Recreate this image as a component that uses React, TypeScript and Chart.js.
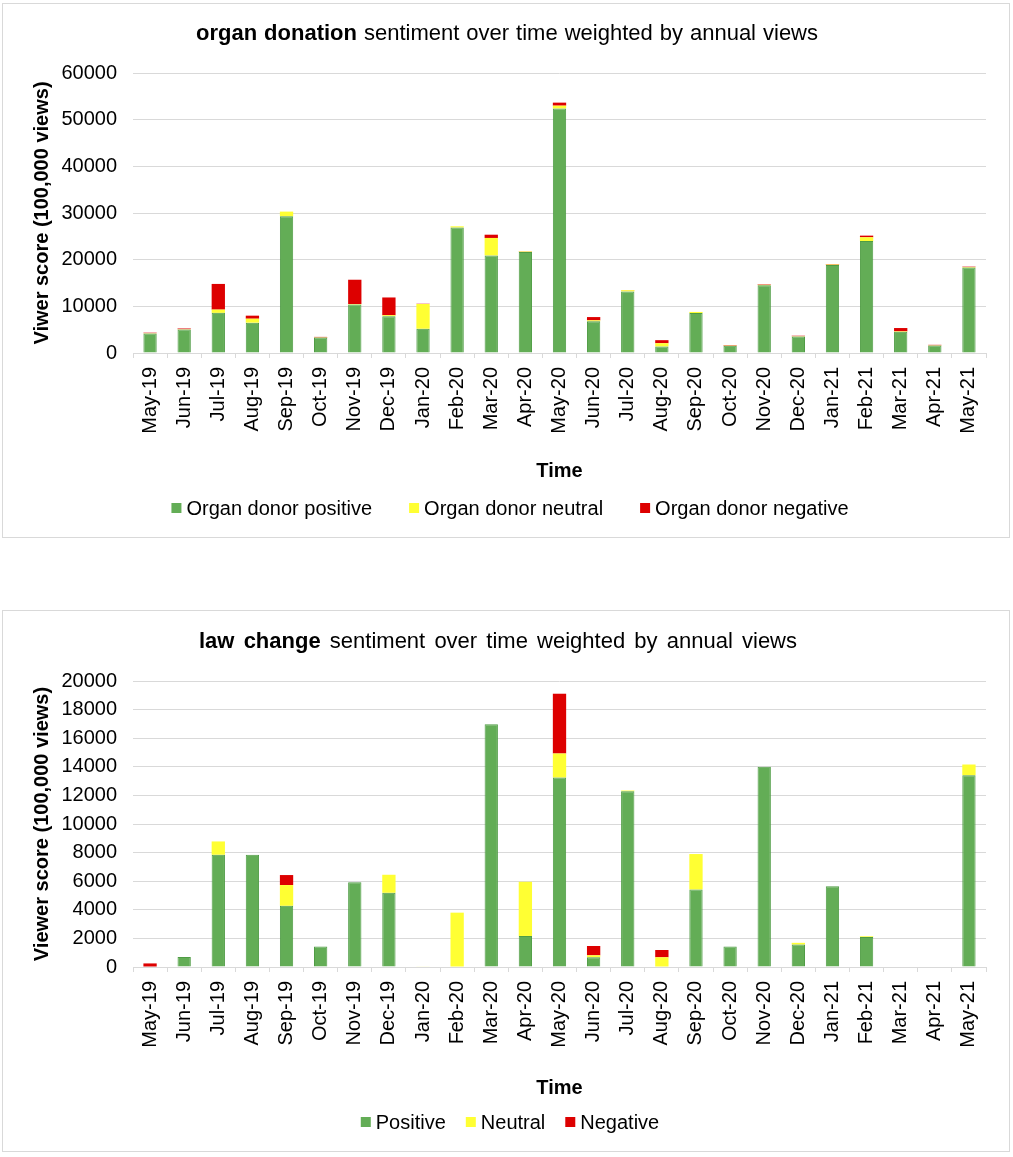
import React, { useEffect, useRef } from "react";
import { Chart, registerables } from "chart.js";

Chart.register(...registerables);

// ---------- DATA ----------
const months = [
  "May-19", "Jun-19", "Jul-19", "Aug-19", "Sep-19", "Oct-19", "Nov-19", "Dec-19",
  "Jan-20", "Feb-20", "Mar-20", "Apr-20", "May-20", "Jun-20", "Jul-20", "Aug-20",
  "Sep-20", "Oct-20", "Nov-20", "Dec-20", "Jan-21", "Feb-21", "Mar-21", "Apr-21", "May-21",
];

const organPositive = [
  4200, 5050, 8600, 6500, 29300, 3300, 10400, 7900, 5200, 26900, 20900, 21650, 52400,
  6800, 13200, 1400, 8550, 1550, 14500, 3550, 18850, 24000, 4550, 1600, 18300,
];
const organNeutral = [
  50, 50, 700, 850, 1000, 50, 100, 200, 5300, 250, 3750, 100, 600,
  200, 250, 700, 250, 50, 100, 50, 100, 800, 100, 50, 100,
];
const organNegative = [
  100, 150, 5500, 650, 0, 100, 5200, 3800, 50, 0, 700, 50, 650,
  700, 50, 650, 0, 100, 100, 100, 100, 350, 700, 100, 100,
];

const lawPositive = [
  0, 700, 7850, 7850, 4280, 1430, 5930, 5190, 0, 0, 16980, 2170, 13250,
  680, 12290, 0, 5420, 1430, 14000, 1570, 5650, 2100, 0, 0, 13410,
];
const lawNeutral = [
  0, 0, 930, 0, 1450, 0, 0, 1260, 40, 3800, 0, 3790, 1680,
  140, 50, 680, 2480, 0, 0, 120, 0, 50, 0, 0, 750,
];
const lawNegative = [
  250, 0, 0, 0, 700, 0, 0, 0, 0, 0, 0, 0, 4180,
  650, 0, 510, 0, 0, 0, 0, 0, 0, 0, 0, 0,
];

const organLabels = ["Organ donor positive", "Organ donor neutral", "Organ donor negative"];
const lawLabels = ["Positive", "Neutral", "Negative"];

// ---------- STYLE ----------
const FONT = '"Liberation Sans", Arial, Helvetica, sans-serif';
const GREEN = "#63ad56";
const GREEN_BORDER = "#4f9c44";
const YELLOW = "#ffff33";
const RED = "#dd0000";
const GRID = "#d9d9d9";

type Part = { text: string; bold: boolean };

const decorPlugin = {
  id: "decor",
  afterDraw(chart: any, _args: any, opts: any) {
    const ctx: CanvasRenderingContext2D = chart.ctx;
    ctx.save();
    // ---- title with mixed weights ----
    const parts: Part[] = opts.title || [];
    const words: { w: string; bold: boolean; width: number }[] = [];
    parts.forEach((p) => {
      p.text.split(" ").filter((s) => s.length).forEach((w) => {
        ctx.font = `${p.bold ? "bold " : ""}${opts.titleSize}px ${FONT}`;
        words.push({ w, bold: p.bold, width: ctx.measureText(w).width });
      });
    });
    ctx.font = `${opts.titleSize}px ${FONT}`;
    const spaceW = ctx.measureText(" ").width;
    const natural = words.reduce((a, b) => a + b.width, 0) + spaceW * (words.length - 1);
    const extra = opts.titleWidth ? Math.max(0, (opts.titleWidth - natural) / (words.length - 1)) : 0;
    const total = natural + extra * (words.length - 1);
    let x = opts.titleX - total / 2;
    ctx.fillStyle = "#000";
    ctx.textBaseline = "alphabetic";
    ctx.textAlign = "left";
    words.forEach((wd) => {
      ctx.font = `${wd.bold ? "bold " : ""}${opts.titleSize}px ${FONT}`;
      ctx.fillText(wd.w, x, opts.titleY);
      x += wd.width + spaceW + extra;
    });

    // ---- legend ----
    ctx.font = `${opts.legendSize}px ${FONT}`;
    const box = 10;
    const gapBT = 5;
    const items = chart.data.datasets.map((ds: any) => ({
      label: ds.label,
      color: ds.backgroundColor,
      w: box + gapBT + ctx.measureText(ds.label).width,
    }));
    const lTotal = items.reduce((a: number, b: any) => a + b.w, 0) + opts.legendGap * (items.length - 1);
    let lx = opts.legendX - lTotal / 2;
    ctx.textBaseline = "middle";
    items.forEach((it: any) => {
      ctx.fillStyle = it.color;
      ctx.fillRect(lx, opts.legendY - box / 2, box, box);
      ctx.fillStyle = "#000";
      ctx.fillText(it.label, lx + box + gapBT, opts.legendY + 1);
      lx += it.w + opts.legendGap;
    });
    ctx.restore();
  },
};

type PanelProps = {
  left: number;
  top: number;
  width: number;
  height: number;
  title: Part[];
  titleX: number;
  titleY: number;
  titleWidth: number;
  yTitle: string;
  series: number[][];
  seriesLabels: string[];
  yMax: number;
  yStep: number;
  areaTop: number;
  areaBottom: number;
  timePad: number;
  legendX: number;
  legendY: number;
  legendGap: number;
};

function Panel(p: PanelProps) {
  const ref = useRef<HTMLCanvasElement | null>(null);
  const cw = p.width - 2;
  const ch = p.height - 2;
  useEffect(() => {
    if (!ref.current) return;
    const colors = [GREEN, YELLOW, RED];
    const chart = new Chart(ref.current, {
      type: "bar",
      data: {
        labels: months,
        datasets: p.series.map((vals, i) => ({
          label: p.seriesLabels[i],
          data: vals,
          backgroundColor: colors[i],
          borderColor: i === 0 ? GREEN_BORDER : colors[i],
          borderWidth: i === 0 ? 1 : 0,
          categoryPercentage: 1,
          barPercentage: 0.39,
        })),
      },
      options: {
        responsive: false,
        maintainAspectRatio: false,
        animation: false,
        devicePixelRatio: 1,
        layout: { padding: { top: p.areaTop, left: 0, right: cw - 983, bottom: 0 } },
        plugins: {
          legend: { display: false },
          title: { display: false },
          tooltip: { enabled: false },
          decor: {
            title: p.title,
            titleX: p.titleX,
            titleY: p.titleY,
            titleWidth: p.titleWidth,
            titleSize: 22,
            legendX: p.legendX,
            legendY: p.legendY,
            legendGap: p.legendGap,
            legendSize: 20,
          },
        } as any,
        scales: {
          x: {
            stacked: true,
            offset: true,
            grid: {
              display: true,
              drawOnChartArea: false,
              drawTicks: true,
              tickLength: 5,
              color: GRID,
              offset: true,
            },
            border: { display: true, color: GRID, width: 1 },
            ticks: {
              autoSkip: false,
              minRotation: 90,
              maxRotation: 90,
              padding: 9,
              color: "#000",
              font: { family: FONT, size: 20 },
            },
            title: {
              display: true,
              text: "Time",
              color: "#000",
              font: { family: FONT, size: 20, weight: "bold" },
              padding: { top: 0, bottom: p.timePad },
            },
            afterFit: (s: any) => {
              s.height = ch - p.areaBottom;
            },
          },
          y: {
            stacked: true,
            min: 0,
            max: p.yMax,
            ticks: {
              stepSize: p.yStep,
              padding: 16,
              color: "#000",
              font: { family: FONT, size: 20 },
              callback: (v: any) => String(v),
            },
            grid: { color: GRID, drawTicks: false, lineWidth: 1 },
            border: { display: false },
            title: {
              display: true,
              text: p.yTitle,
              color: "#000",
              font: { family: FONT, size: 20, weight: "bold" },
              padding: { top: 27, bottom: 0 },
            },
            afterFit: (s: any) => {
              s.width = 130;
            },
          },
        },
      } as any,
      plugins: [decorPlugin as any],
    });
    return () => chart.destroy();
  }, []);
  return (
    <div
      style={{
        position: "absolute",
        left: p.left,
        top: p.top,
        width: p.width,
        height: p.height,
        border: `1px solid ${GRID}`,
        boxSizing: "border-box",
        background: "#fff",
      }}
    >
      <canvas ref={ref} width={cw} height={ch} style={{ display: "block", width: cw, height: ch }} />
    </div>
  );
}

export default function App() {
  useEffect(() => {
    document.body.style.margin = "0";
  }, []);
  return (
    <div style={{ position: "absolute", left: 0, top: 0, width: 1013, height: 1157, background: "#fff" }}>
      <Panel
        left={2}
        top={3}
        width={1008}
        height={535}
        title={[
          { text: "organ donation", bold: true },
          { text: "sentiment over time weighted by annual views", bold: false },
        ]}
        titleX={504}
        titleY={36}
        titleWidth={622}
        yTitle="Viwer score (100,000 views)"
        series={[organPositive, organNeutral, organNegative]}
        seriesLabels={organLabels}
        yMax={60000}
        yStep={10000}
        areaTop={69}
        areaBottom={349}
        timePad={54}
        legendX={507}
        legendY={504}
        legendGap={37}
      />
      <Panel
        left={2}
        top={610}
        width={1008}
        height={542}
        title={[
          { text: "law change", bold: true },
          { text: "sentiment over time weighted by annual views", bold: false },
        ]}
        titleX={495}
        titleY={37}
        titleWidth={598}
        yTitle="Viewer score (100,000 views)"
        series={[lawPositive, lawNeutral, lawNegative]}
        seriesLabels={lawLabels}
        yMax={20000}
        yStep={2000}
        areaTop={70}
        areaBottom={356}
        timePad={51}
        legendX={507}
        legendY={511}
        legendGap={20}
      />
    </div>
  );
}
